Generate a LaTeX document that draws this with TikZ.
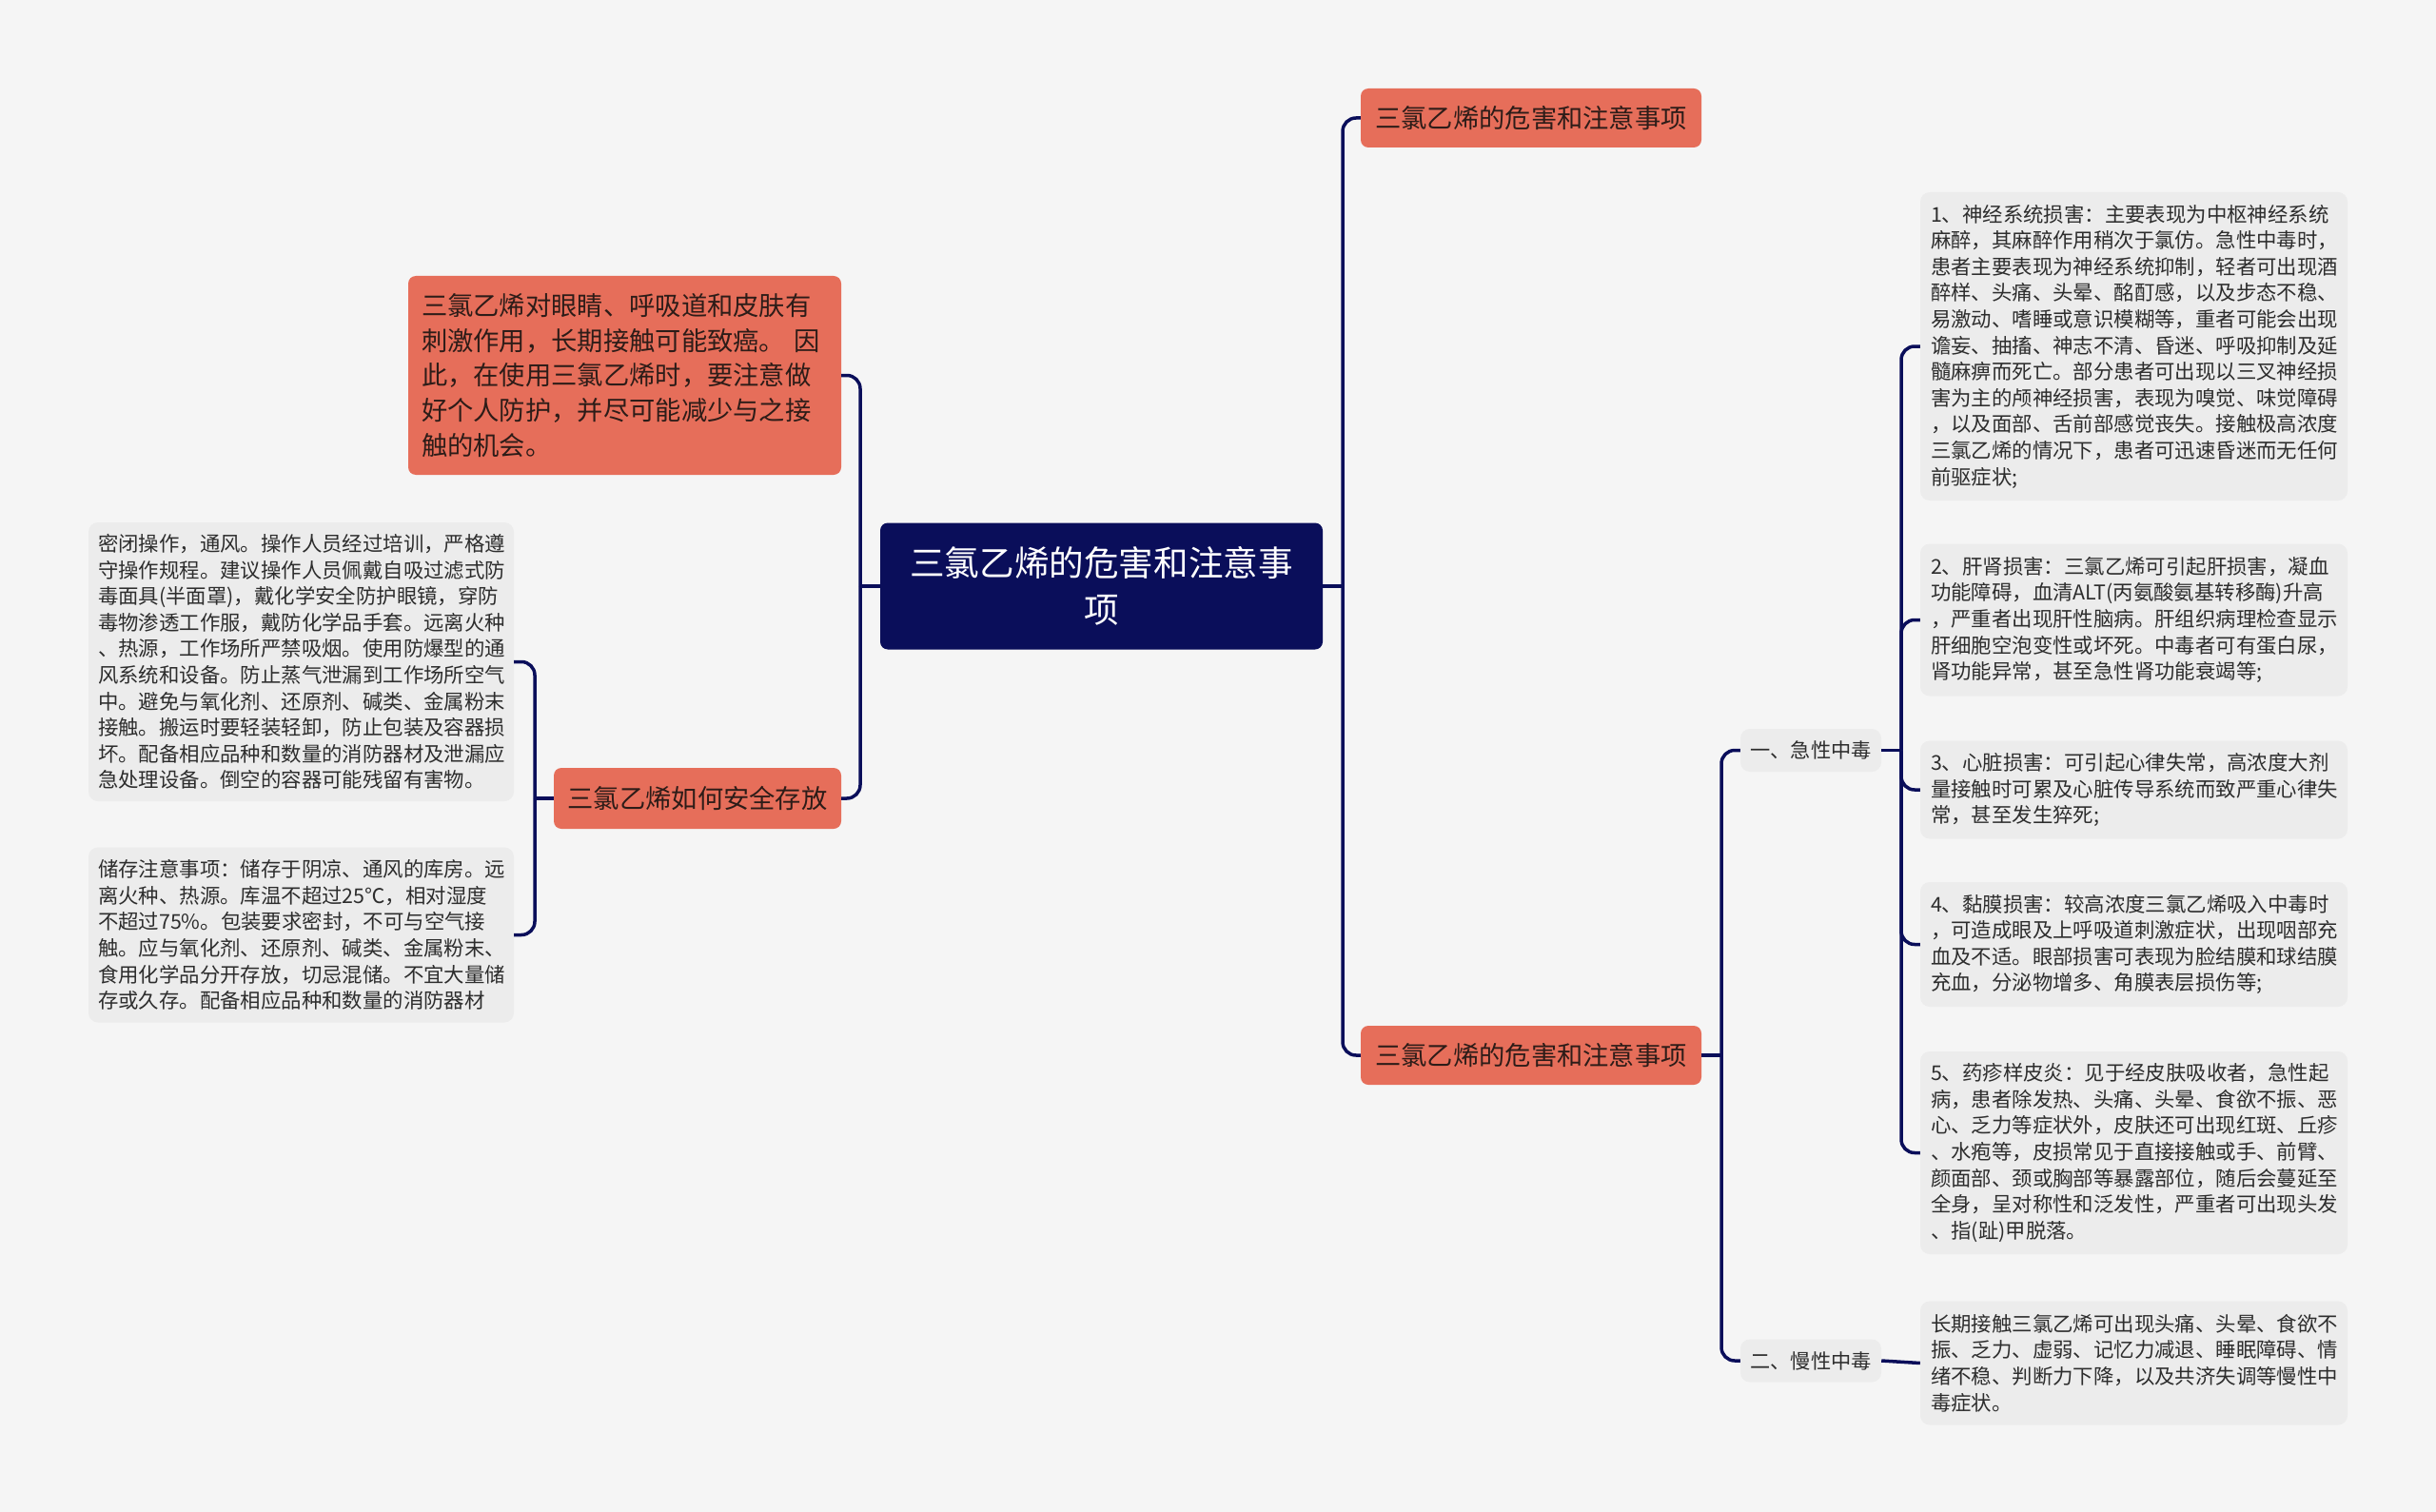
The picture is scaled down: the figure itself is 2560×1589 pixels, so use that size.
\documentclass[tikz,border=0pt]{standalone}
\usepackage{fontspec}
\newfontfamily\cjk{Noto Sans CJK SC}
\definecolor{bg}{RGB}{245,245,245}
\definecolor{navy}{RGB}{10,14,90}
\definecolor{orng}{RGB}{230,110,90}
\definecolor{otxt}{RGB}{45,28,24}
\definecolor{boxgray}{RGB}{236,236,236}
\definecolor{gtxt}{RGB}{45,45,45}
\tikzset{
  conn/.style={draw=navy, line width=3.5pt, rounded corners=14pt},
  rootbox/.style={fill=navy, rounded corners=8pt, text=white, align=center, inner sep=0pt,
    font=\cjk\fontsize{36.6}{49}\selectfont},
  obox/.style={fill=orng, rounded corners=8pt, text=otxt, inner sep=0pt,
    font=\cjk\fontsize{27.3}{36.7}\selectfont},
  gbox/.style={fill=boxgray, rounded corners=10pt, text=gtxt, align=left, inner xsep=11pt, inner ysep=0pt,
    text width=427pt, minimum width=449pt, font=\cjk\fontsize{21.4}{27.6}\selectfont},
  sbox/.style={fill=boxgray, rounded corners=10pt, text=gtxt, inner sep=0pt,
    minimum width=148pt, minimum height=45pt, font=\cjk\fontsize{21.2}{27}\selectfont},
}
\begin{document}
\begin{tikzpicture}[x=1pt,y=-1pt]
\fill[bg] (0,0) rectangle (2560,1589);
\useasboundingbox (0,0) rectangle (2560,1589);

% root
\node[rootbox, minimum width=465pt, minimum height=133pt] (root) at (1157.5,616) {三氯乙烯的危害和注意事\\项};

% right main branches
\node[obox, minimum width=358pt, minimum height=62pt] (r1) at (1609,124) {三氯乙烯的危害和注意事项};
\node[obox, minimum width=358pt, minimum height=62pt] (r2) at (1609,1109) {三氯乙烯的危害和注意事项};

% left main branches
\node[obox, align=left, text width=427pt, inner xsep=14pt, minimum width=455pt, minimum height=209pt] (l1) at (656.5,394.5) {三氯乙烯对眼睛、呼吸道和皮肤有\\刺激作用，长期接触可能致癌。\ 因\\此，在使用三氯乙烯时，要注意做\\好个人防护，并尽可能减少与之接\\触的机会。};
\node[obox, minimum width=302pt, minimum height=64pt] (l2) at (733,839) {三氯乙烯如何安全存放};

% left leaf boxes
\node[gbox, minimum height=293pt, inner xsep=10pt, text width=427pt, minimum width=447pt] (lb1) at (316.5,695.5) {密闭操作，通风。操作人员经过培训，严格遵\\守操作规程。建议操作人员佩戴自吸过滤式防\\毒面具(半面罩)，戴化学安全防护眼镜，穿防\\毒物渗透工作服，戴防化学品手套。远离火种\\、热源，工作场所严禁吸烟。使用防爆型的通\\风系统和设备。防止蒸气泄漏到工作场所空气\\中。避免与氧化剂、还原剂、碱类、金属粉末\\接触。搬运时要轻装轻卸，防止包装及容器损\\坏。配备相应品种和数量的消防器材及泄漏应\\急处理设备。倒空的容器可能残留有害物。};
\node[gbox, minimum height=184pt, inner xsep=10pt, text width=427pt, minimum width=447pt] (lb2) at (316.5,982.5) {储存注意事项：储存于阴凉、通风的库房。远\\离火种、热源。库温不超过25℃，相对湿度\\不超过75\%。包装要求密封，不可与空气接\\触。应与氧化剂、还原剂、碱类、金属粉末、\\食用化学品分开存放，切忌混储。不宜大量储\\存或久存。配备相应品种和数量的消防器材};

% sub-branches right
\node[sbox] (a1) at (1903,788.5) {一、急性中毒};
\node[sbox] (a2) at (1903,1430) {二、慢性中毒};

% right leaf boxes
\node[gbox, minimum height=324pt] (b1) at (2242.5,364) {1、神经系统损害：主要表现为中枢神经系统\\麻醉，其麻醉作用稍次于氯仿。急性中毒时，\\患者主要表现为神经系统抑制，轻者可出现酒\\醉样、头痛、头晕、酩酊感，以及步态不稳、\\易激动、嗜睡或意识模糊等，重者可能会出现\\谵妄、抽搐、神志不清、昏迷、呼吸抑制及延\\髓麻痹而死亡。部分患者可出现以三叉神经损\\害为主的颅神经损害，表现为嗅觉、味觉障碍\\，以及面部、舌前部感觉丧失。接触极高浓度\\三氯乙烯的情况下，患者可迅速昏迷而无任何\\前驱症状;};
\node[gbox, minimum height=160pt] (b2) at (2242.5,651.5) {2、肝肾损害：三氯乙烯可引起肝损害，凝血\\功能障碍，血清ALT(丙氨酸氨基转移酶)升高\\，严重者出现肝性脑病。肝组织病理检查显示\\肝细胞空泡变性或坏死。中毒者可有蛋白尿，\\肾功能异常，甚至急性肾功能衰竭等;};
\node[gbox, minimum height=103pt] (b3) at (2242.5,830) {3、心脏损害：可引起心律失常，高浓度大剂\\量接触时可累及心脏传导系统而致严重心律失\\常，甚至发生猝死;};
\node[gbox, minimum height=131pt] (b4) at (2242.5,992.5) {4、黏膜损害：较高浓度三氯乙烯吸入中毒时\\，可造成眼及上呼吸道刺激症状，出现咽部充\\血及不适。眼部损害可表现为脸结膜和球结膜\\充血，分泌物增多、角膜表层损伤等;};
\node[gbox, minimum height=213pt] (b5) at (2242.5,1211.5) {5、药疹样皮炎：见于经皮肤吸收者，急性起\\病，患者除发热、头痛、头晕、食欲不振、恶\\心、乏力等症状外，皮肤还可出现红斑、丘疹\\、水疱等，皮损常见于直接接触或手、前臂、\\颜面部、颈或胸部等暴露部位，随后会蔓延至\\全身，呈对称性和泛发性，严重者可出现头发\\、指(趾)甲脱落。};
\node[gbox, minimum height=130pt] (b6) at (2242.5,1432.5) {长期接触三氯乙烯可出现头痛、头晕、食欲不\\振、乏力、虚弱、记忆力减退、睡眠障碍、情\\绪不稳、判断力下降，以及共济失调等慢性中\\毒症状。};

% junction coordinates
\coordinate (jr) at (1411,616);
\coordinate (jl) at (904,616);
\coordinate (jl2) at (562,839);
\coordinate (jr2) at (1809,1109);
\coordinate (ja1) at (1998,788.5);

% connectors
\draw[conn] (root.east) -- (jr);
\draw[conn] (jr) |- (r1.west);
\draw[conn] (jr) |- (r2.west);
\draw[conn] (root.west) -- (jl);
\draw[conn] (jl) |- (l1.east);
\draw[conn] (jl) |- (l2.east);
\draw[conn] (l2.west) -- (jl2);
\draw[conn] (jl2) |- (lb1.east);
\draw[conn] (jl2) |- (lb2.east);
\draw[conn] (r2.east) -- (jr2);
\draw[conn] (jr2) |- (a1.west);
\draw[conn] (jr2) |- (a2.west);
\draw[conn] (a1.east) -- (ja1);
\draw[conn] (ja1) |- (b1.west);
\draw[conn] (ja1) |- (b2.west);
\draw[conn] (ja1) |- (b3.west);
\draw[conn] (ja1) |- (b4.west);
\draw[conn] (ja1) |- (b5.west);
\draw[conn] (a2.east) -- (b6.west);
\end{tikzpicture}
\end{document}
